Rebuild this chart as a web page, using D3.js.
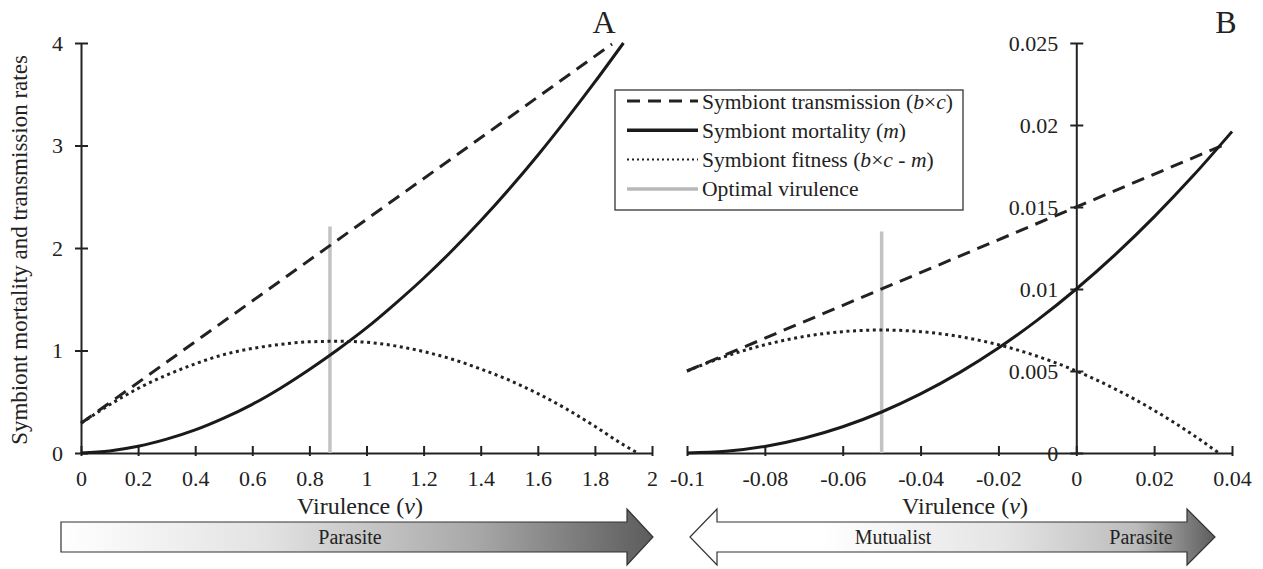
<!DOCTYPE html>
<html lang="en">
<head>
    <meta charset="UTF-8">
    <title>Virulence</title>
    <script src="https://d3js.org/d3.v7.min.js"></script>
    <style>
        body{ margin:0; background:white; }
        svg text{ font-family: "Liberation Serif", "Times New Roman", serif; fill:#222; }
        .axis path, .axis line{ stroke:#222; stroke-width:2px; }
        .axis text{ font-size:22px; }
    </style>
</head>
<body>
<svg id="canvas" width="1263" height="569"></svg>
<script>
    // panel A
    let xTicksA = [0,0.2,0.4,0.6,0.8,1,1.2,1.4,1.6,1.8,2];
    let yTicksA = [0,1,2,3,4];
    let transVA = [0,1.86];
    let transA = [0.29,3.99];
    let mortVA = [0,0.1,0.2,0.3,0.4,0.5,0.6,0.7,0.8,0.9,1,1.1,1.2,1.3,1.4,1.5,1.6,1.7,1.8,1.9];
    let mortA = [0,0.02,0.065,0.135,0.225,0.34,0.475,0.635,0.815,1.01,1.22,1.455,1.705,1.975,2.265,2.575,2.905,3.255,3.62,4.0];
    let fitVA = [0,0.1,0.2,0.3,0.4,0.5,0.6,0.7,0.8,0.9,1,1.1,1.2,1.3,1.4,1.5,1.6,1.7,1.8,1.9,1.95];
    let fitA = [0.29,0.47,0.63,0.76,0.87,0.96,1.02,1.06,1.085,1.09,1.08,1.045,0.99,0.915,0.82,0.71,0.58,0.43,0.26,0.08,0];
    let optA = [0.872,2.21];

    // panel B
    let xTicksB = [-0.1,-0.08,-0.06,-0.04,-0.02,0,0.02,0.04];
    let yTicksB = [0,0.005,0.01,0.015,0.02,0.025];
    let transVB = [-0.1,0.039];
    let transB = [0.005,0.0189];
    let mortVB = [-0.1,-0.09,-0.08,-0.07,-0.06,-0.05,-0.04,-0.03,-0.02,-0.01,0,0.01,0.02,0.03,0.04];
    let mortB = [0,0.0001,0.0004,0.0009,0.0016,0.0025,0.0036,0.0049,0.0064,0.0081,0.01,0.0121,0.0144,0.0169,0.0196];
    let fitVB = [-0.1,-0.09,-0.08,-0.07,-0.06,-0.05,-0.04,-0.03,-0.02,-0.01,0,0.01,0.02,0.03,0.0366];
    let fitB = [0.005,0.0059,0.0066,0.0071,0.0074,0.0075,0.0074,0.0071,0.0066,0.0059,0.005,0.0039,0.0026,0.0011,0];
    let optB = [-0.05,0.0135];

    let svg = d3.select('#canvas');

    let xA = d3.scaleLinear().domain([0,2]).range([81,652]);
    let yA = d3.scaleLinear().domain([0,4]).range([453,43]);
    let xB = d3.scaleLinear().domain([-0.1,0.04]).range([687,1232]);
    let yB = d3.scaleLinear().domain([0,0.025]).range([453,43]);

    let fmt = function(d){ return String(+d.toFixed(3)); };

    // gradients for the arrows
    let defs = svg.append('defs');
    let g1 = defs.append('linearGradient').attr('id','gradA');
    g1.append('stop').attr('offset','0').attr('stop-color','#ffffff');
    g1.append('stop').attr('offset','0.35').attr('stop-color','#e2e2e2');
    g1.append('stop').attr('offset','0.7').attr('stop-color','#a8a8a8');
    g1.append('stop').attr('offset','1').attr('stop-color','#5c5c5c');
    let g2 = defs.append('linearGradient').attr('id','gradB');
    g2.append('stop').attr('offset','0').attr('stop-color','#ffffff');
    g2.append('stop').attr('offset','0.25').attr('stop-color','#ffffff');
    g2.append('stop').attr('offset','0.6').attr('stop-color','#e4e4e4');
    g2.append('stop').attr('offset','0.85').attr('stop-color','#bcbcbc');
    g2.append('stop').attr('offset','1').attr('stop-color','#5c5c5c');

    function drawPanel(x, y, xTicks, yTicks, yAxisX, tv, t, mv, m, fv, f, opt){
        let g = svg.append('g');
        let ax = g.append('g').attr('class','axis')
            .attr('transform','translate(0,'+y(0)+')')
            .call(d3.axisBottom(x).tickValues(xTicks).tickFormat(fmt).tickSize(-7).tickSizeOuter(0).tickPadding(17));
        ax.selectAll('.tick line').attr('y1',3);
        let ay = g.append('g').attr('class','axis')
            .attr('transform','translate('+yAxisX+',0)')
            .call(d3.axisLeft(y).tickValues(yTicks).tickFormat(fmt).tickSize(-7).tickSizeOuter(0).tickPadding(18));
        ay.selectAll('.tick line').attr('x1',-6);

        let line = d3.line().x(d => x(d[0])).y(d => y(d[1])).curve(d3.curveMonotoneX);

        g.append('line')
            .attr('x1',x(opt[0])).attr('x2',x(opt[0]))
            .attr('y1',y(0)).attr('y2',y(opt[1]))
            .attr('stroke','#c3c3c3').attr('stroke-width',3.5);

        g.append('path').datum(d3.zip(tv,t)).attr('d',line)
            .attr('fill','none').attr('stroke','#222').attr('stroke-width',3)
            .attr('stroke-dasharray','13,8');
        g.append('path').datum(d3.zip(mv,m)).attr('d',line)
            .attr('fill','none').attr('stroke','#1a1a1a').attr('stroke-width',3);
        g.append('path').datum(d3.zip(fv,f)).attr('d',line)
            .attr('fill','none').attr('stroke','#222').attr('stroke-width',3)
            .attr('stroke-dasharray','3,3.6');
    }

    drawPanel(xA, yA, xTicksA, yTicksA, 81, transVA, transA, mortVA, mortA, fitVA, fitA, optA);
    drawPanel(xB, yB, xTicksB, yTicksB, xB(0), transVB, transB, mortVB, mortB, fitVB, fitB, optB);

    // axis titles
    svg.append('text')
        .attr('transform','translate(27,250) rotate(-90)')
        .attr('text-anchor','middle')
        .style('font-size','23px')
        .text('Symbiont mortality and transmission rates');

    function virulence(cx){
        let t = svg.append('text').attr('x',cx).attr('y',514)
            .attr('text-anchor','middle').style('font-size','24px');
        t.append('tspan').text('Virulence (');
        t.append('tspan').style('font-style','italic').text('v');
        t.append('tspan').text(')');
    }
    virulence(360);
    virulence(965);

    svg.append('text').attr('x',604).attr('y',33).attr('text-anchor','middle')
        .style('font-size','32px').text('A');
    svg.append('text').attr('x',1226).attr('y',33).attr('text-anchor','middle')
        .style('font-size','32px').text('B');

    // legend
    let legend = svg.append('g');
    legend.append('rect').attr('x',615).attr('y',90).attr('width',348).attr('height',120)
        .attr('fill','white').attr('stroke','#333').attr('stroke-width',1.3);
    let rows = [
        {dash:'13,8', color:'#222', w:3, parts:[['Symbiont transmission (',0],['b',1],['\u00d7',0],['c',1],[')',0]]},
        {dash:null, color:'#1a1a1a', w:3.5, parts:[['Symbiont mortality (',0],['m',1],[')',0]]},
        {dash:'2,3', color:'#222', w:2, parts:[['Symbiont fitness (',0],['b',1],['\u00d7',0],['c',1],[' - ',0],['m',1],[')',0]]},
        {dash:null, color:'#b8b8b8', w:3.5, parts:[['Optimal virulence',0]]}
    ];
    rows.forEach(function(r,i){
        let yy = 101 + i*29.3;
        legend.append('line').attr('x1',627).attr('x2',698).attr('y1',yy).attr('y2',yy)
            .attr('stroke',r.color).attr('stroke-width',r.w)
            .attr('stroke-dasharray',r.dash);
        let t = legend.append('text').attr('x',702).attr('y',yy).attr('dy','0.35em')
            .style('font-size','21.6px');
        r.parts.forEach(function(p){
            t.append('tspan').style('font-style',p[1] ? 'italic' : 'normal').text(p[0]);
        });
    });

    // arrows
    let cy = 537;
    svg.append('path')
        .attr('d','M61,'+(cy-15)+'L627,'+(cy-15)+'L627,'+(cy-28)+'L653,'+cy+'L627,'+(cy+28)+'L627,'+(cy+15)+'L61,'+(cy+15)+'Z')
        .attr('fill','url(#gradA)').attr('stroke','#333').attr('stroke-width',1.2);
    svg.append('text').attr('x',350).attr('y',cy).attr('dy','0.35em').attr('text-anchor','middle')
        .style('font-size','20px').text('Parasite');

    svg.append('path')
        .attr('d','M690,'+cy+'L717,'+(cy-28)+'L717,'+(cy-15)+'L1187,'+(cy-15)+'L1187,'+(cy-28)+'L1215,'+cy+
            'L1187,'+(cy+28)+'L1187,'+(cy+15)+'L717,'+(cy+15)+'L717,'+(cy+28)+'Z')
        .attr('fill','url(#gradB)').attr('stroke','#333').attr('stroke-width',1.2);
    svg.append('text').attr('x',893).attr('y',cy).attr('dy','0.35em').attr('text-anchor','middle')
        .style('font-size','20px').text('Mutualist');
    svg.append('text').attr('x',1141).attr('y',cy).attr('dy','0.35em').attr('text-anchor','middle')
        .style('font-size','20px').text('Parasite');
</script>
</body>
</html>
